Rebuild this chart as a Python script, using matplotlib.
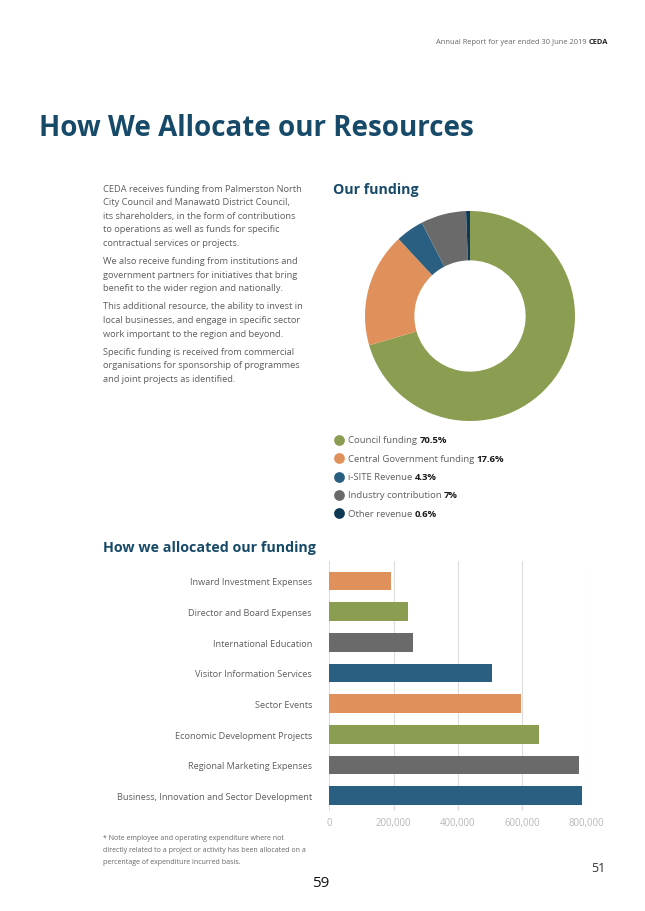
import matplotlib.pyplot as plt
from matplotlib.ticker import FuncFormatter

plt.rcParams['font.family'] = ['Open Sans', 'DejaVu Sans']

# funding sources (donut)
fund_labels = ['Council funding', 'Central Government funding', 'i-SITE Revenue',
               'Industry contribution', 'Other revenue']
fund_pct = [70.5, 17.6, 4.3, 7.0, 0.6]
fund_pct_text = ['70.5%', '17.6%', '4.3%', '7%', '0.6%']
fund_colors = ['#8a9d50', '#e0915b', '#2a5f82', '#6a6a6a', '#0e3956']

# allocation (bars), top to bottom
alloc_labels = ['Inward Investment Expenses', 'Director and Board Expenses',
                'International Education', 'Visitor Information Services',
                'Sector Events', 'Economic Development Projects',
                'Regional Marketing Expenses', 'Business, Innovation and Sector Development']
alloc_values = [191000, 245000, 261000, 505000, 595000, 653000, 777000, 786000]
alloc_colors = ['#e0915b', '#8a9d50', '#6a6a6a', '#2a5f82',
                '#e0915b', '#8a9d50', '#6a6a6a', '#2a5f82']

TITLE = '#174a68'
BODY = '#5e5e5e'
W, H = 645, 912

fig = plt.figure(figsize=(W / 100, H / 100), dpi=100)
fig.patch.set_facecolor('white')


def px(x, y):
    return x / W, 1 - y / H


# page header
fig.text(*px(589, 43), 'Annual Report for year ended 30 June 2019 ', ha='right',
         va='center', fontsize=5.4, color='#666666')
fig.text(*px(589, 43), 'CEDA', ha='left', va='center', fontsize=5.4,
         fontweight='bold', color='#222222')

fig.text(*px(39, 129), 'How We Allocate our Resources', fontsize=20, fontweight='bold',
         color=TITLE, va='center', ha='left')

# body text
paras = [
    ['CEDA receives funding from Palmerston North', 'City Council and Manawatū District Council,',
     'its shareholders, in the form of contributions', 'to operations as well as funds for specific',
     'contractual services or projects.'],
    ['We also receive funding from institutions and', 'government partners for initiatives that bring',
     'benefit to the wider region and nationally.'],
    ['This additional resource, the ability to invest in', 'local businesses, and engage in specific sector',
     'work important to the region and beyond.'],
    ['Specific funding is received from commercial', 'organisations for sponsorship of programmes',
     'and joint projects as identified.'],
]
y = 189
for para in paras:
    for line in para:
        fig.text(*px(103, y), line, fontsize=6.65, color=BODY, va='center')
        y += 13.6
    y += 4.5

fig.text(*px(333, 190), 'Our funding', fontsize=10.2, fontweight='bold', color=TITLE, va='center')

# donut
ax_pie = fig.add_axes([365 / W, 1 - 422 / H, 210 / W, 210 / H])
ax_pie.pie(fund_pct, colors=fund_colors, startangle=90, counterclock=False,
           wedgeprops=dict(width=0.47, linewidth=0))
ax_pie.set_xlim(-1, 1)
ax_pie.set_ylim(-1, 1)
ax_pie.set_aspect('equal')
ax_pie.axis('off')

# legend
ax_bg = fig.add_axes([0, 0, 1, 1], zorder=-1)
ax_bg.set_xlim(0, W)
ax_bg.set_ylim(H, 0)
ax_bg.axis('off')
for i, (lab, pct, col) in enumerate(zip(fund_labels, fund_pct_text, fund_colors)):
    ly = 441 + i * 18.3
    ax_bg.scatter([338.5], [ly], s=60, color=col, linewidths=0)
    t = fig.text(*px(348, ly), lab + ' ', fontsize=6.8, color=BODY, va='center')
    ax_bg.annotate(pct, xy=(1, 0.5), xycoords=t, va='center', ha='left', fontsize=6.8,
                   fontweight='bold', color='#1a1a1a')

fig.text(*px(103, 548), 'How we allocated our funding', fontsize=10.3, fontweight='bold',
         color=TITLE, va='center')

# bars
ax = fig.add_axes([329.3 / W, 1 - 812 / H, 257.4 / W, 250 / H])
ypos = list(range(len(alloc_labels)))
ax.barh(ypos, alloc_values, height=0.61, color=alloc_colors, zorder=3)
ax.set_xlim(0, 800000)
ax.set_ylim(7.5, -0.65)
ax.set_yticks(ypos)
ax.set_yticklabels(alloc_labels, fontsize=6.55, color=BODY)
ax.set_xticks([0, 200000, 400000, 600000, 800000])
ax.xaxis.set_major_formatter(FuncFormatter(lambda v, p: f'{int(v):,}'))
ax.tick_params(axis='x', length=0, labelsize=6.9, labelcolor='#b8b8b8', pad=4)
ax.tick_params(axis='y', length=0, pad=12.5)
ax.grid(axis='x', color='#dddddd', linewidth=0.8, zorder=0)
for s in ax.spines.values():
    s.set_visible(False)

# footnote
notes = ['* Note employee and operating expenditure where not',
         'directly related to a project or activity has been allocated on a',
         'percentage of expenditure incurred basis.']
for i, n in enumerate(notes):
    fig.text(*px(103, 839 + i * 11.8), n, fontsize=5.05, color='#666666', va='center')

fig.text(*px(598, 869), '51', fontsize=9, color='#333333', va='center', ha='center')
fig.text(*px(321, 884), '59', fontsize=11, color='#111111', va='center', ha='center')

fig.savefig('out.png', dpi=100, facecolor='white')
